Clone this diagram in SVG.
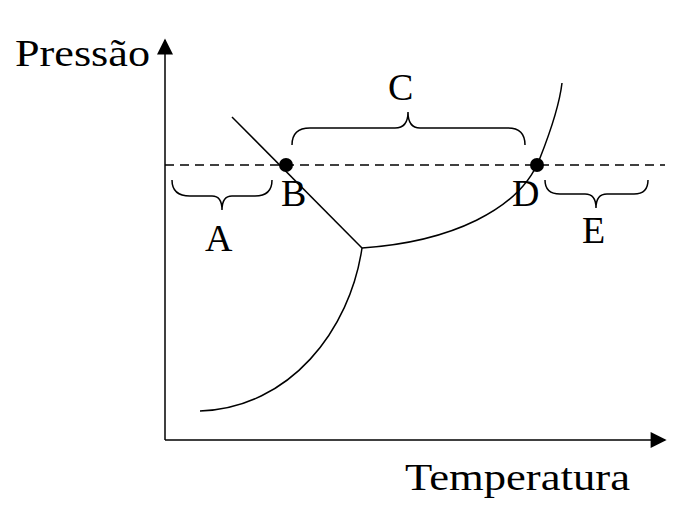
<svg xmlns="http://www.w3.org/2000/svg" width="691" height="510" viewBox="0 0 691 510">
<style>
.l{fill:none;stroke:#000;stroke-width:1.5}
.t{font-family:"Liberation Serif",serif;font-size:38px;fill:#000}
</style>
<defs><marker id="ar" viewBox="0 0 10 10" refX="9" refY="5" markerWidth="20" markerHeight="16" markerUnits="userSpaceOnUse" orient="auto"><path d="M0,0L10,5L0,10z" fill="#000"/></marker></defs>
<rect width="691" height="510" fill="#fff"/>
<path class="l" d="M165,440V40" stroke-width="2.5" marker-end="url(#ar)"/>
<path class="l" d="M165,440H665" stroke-width="2.5" marker-end="url(#ar)"/>
<path class="l" d="M165,165H665" stroke-dasharray="9,6" stroke-width="2"/>
<path class="l" d="M232,117L362,248"/>
<path class="l" d="M362,248C350,330 290,408 200,411"/>
<path class="l" d="M362,248C450,242 520,210 540,158C555,120 560,100 562,83"/>
<circle cx="286" cy="165" r="7"/>
<circle cx="537" cy="165" r="7"/>
<path class="l" d="M172,180Q172,196 190,196H212Q222,196 222,210Q222,196 232,196H255Q272,196 272,180"/>
<path class="l" d="M292,145Q292,128 310,128H395Q408,128 408,112Q408,128 420,128H508Q525,128 525,145"/>
<path class="l" d="M545,180Q545,194 560,194H585Q596,194 596,208Q596,194 607,194H634Q648,194 648,180"/>
<text class="t" x="15" y="66" textLength="135" lengthAdjust="spacingAndGlyphs">Pressão</text>
<text class="t" x="405" y="490" textLength="225" lengthAdjust="spacingAndGlyphs">Temperatura</text>
<text class="t" x="281" y="206">B</text>
<text class="t" x="512" y="206">D</text>
<text class="t" x="205" y="251">A</text>
<text class="t" x="582" y="243">E</text>
<text class="t" x="388" y="100">C</text>
</svg>
